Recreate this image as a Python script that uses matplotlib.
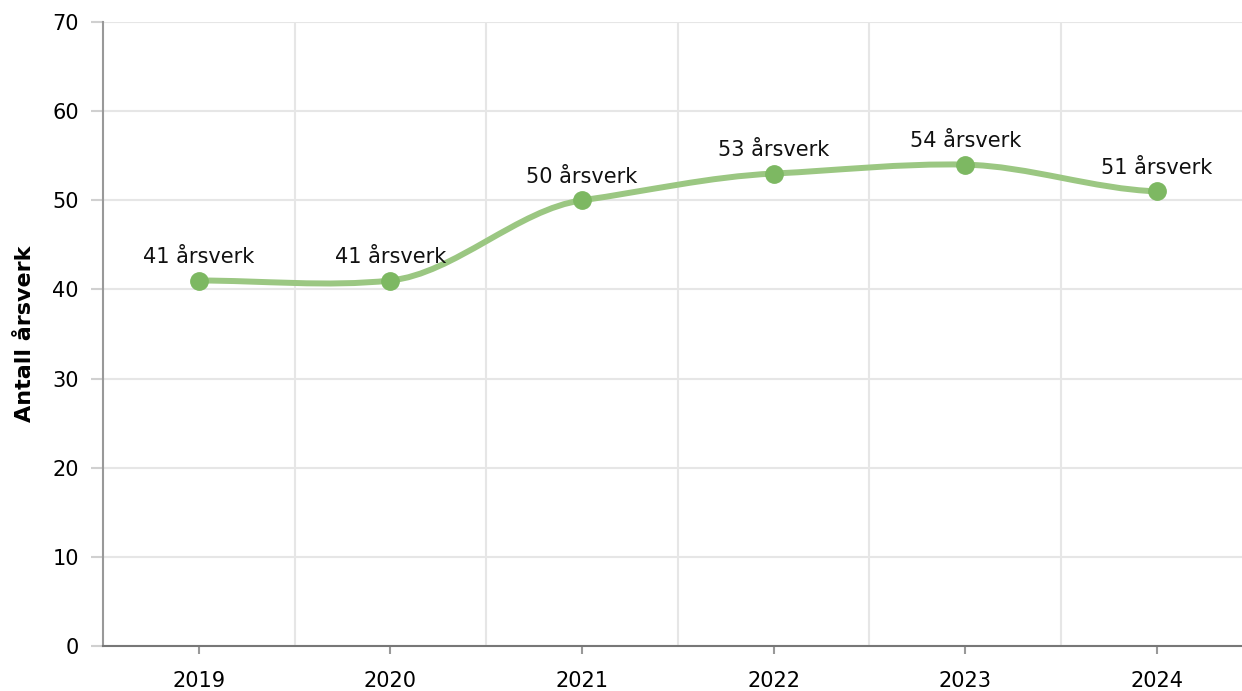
import numpy as np
import matplotlib.pyplot as plt
from matplotlib.path import Path
from matplotlib.patches import PathPatch

years = ["2019", "2020", "2021", "2022", "2023", "2024"]
values = [41, 41, 50, 53, 54, 51]
labels = [f"{v} årsverk" for v in values]

line_color = "#9bc782"
marker_color = "#7db862"
grid_color = "#e6e6e6"
axis_color = "#999999"


def spline_path(xs, ys, tension=0.5):
    # cardinal spline through the points, as cubic bezier segments
    n = len(xs)
    m = []
    for i in range(n):
        a = max(i - 1, 0)
        b = min(i + 1, n - 1)
        m.append((1 - tension) * (ys[b] - ys[a]) / (xs[b] - xs[a]) * (xs[b] - xs[a]) / 2)
    verts = [(xs[0], ys[0])]
    codes = [Path.MOVETO]
    for i in range(1, n):
        h = xs[i] - xs[i - 1]
        verts += [(xs[i - 1] + h / 3, ys[i - 1] + m[i - 1] / 3),
                  (xs[i] - h / 3, ys[i] - m[i] / 3),
                  (xs[i], ys[i])]
        codes += [Path.CURVE4] * 3
    return Path(verts, codes)


plt.rcParams["font.family"] = ["DejaVu Sans"]

fig = plt.figure(figsize=(12.42, 6.91), dpi=100)
ax = fig.add_axes([103 / 1242, 45 / 691, 1139 / 1242, 624 / 691])

x = np.arange(len(years))
ax.set_xlim(-0.5, 5.444)
ax.set_ylim(0, 70)

patch = PathPatch(spline_path(list(x), values), facecolor="none", edgecolor=line_color,
                  lw=4.3, capstyle="round", joinstyle="round", zorder=3)
ax.add_patch(patch)
ax.plot(x, values, "o", color=marker_color, ms=12.5, zorder=4)

for xi, v, lab in zip(x, values, labels):
    ax.annotate(lab, (xi, v), xytext=(0, 12.5), textcoords="offset points",
                ha="center", va="baseline", fontsize=15, color="#111111", zorder=5)

ax.set_yticks(range(0, 71, 10))
ax.set_xticks(x)
ax.set_xticklabels(years)
ax.set_xticks(np.arange(0.5, 5, 1), minor=True)

ax.grid(axis="y", color=grid_color, lw=1.5, zorder=0)
ax.grid(axis="x", which="minor", color=grid_color, lw=1.5, zorder=0)
ax.set_axisbelow(True)

for s in ["top", "right"]:
    ax.spines[s].set_visible(False)
ax.spines["left"].set_color(axis_color)
ax.spines["left"].set_linewidth(1.5)
ax.spines["bottom"].set_color("#777777")
ax.spines["bottom"].set_linewidth(1.5)

ax.tick_params(axis="y", length=8.5, width=1.5, color="#d0d0d0", labelsize=15, pad=9)
ax.tick_params(axis="x", which="major", length=6, width=1.5, color=axis_color, labelsize=15, pad=12)
ax.tick_params(axis="x", which="minor", length=0)

ax.set_ylabel("Antall årsverk", fontsize=16, fontweight="bold", labelpad=12)

fig.savefig("out.png", dpi=100)
